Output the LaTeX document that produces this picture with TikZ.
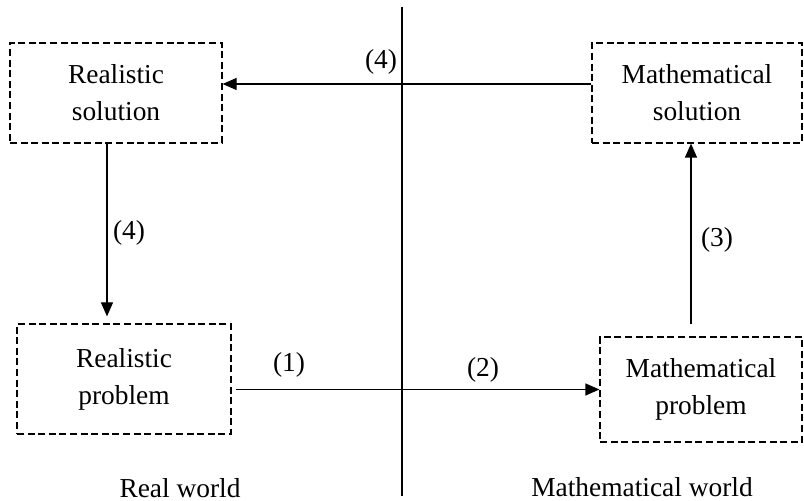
\documentclass[tikz,border=0pt]{standalone}
\usepackage{fontspec}
\setmainfont{Liberation Serif}
\usepackage{tikz}
\usetikzlibrary{arrows.meta, positioning, calc}

\begin{document}
\begin{tikzpicture}[
    x=0.5pt, y=-0.5pt,
    every node/.style={font=\fontsize{13.7}{18.5}\selectfont},
    stagebox/.style={rectangle, draw=black, line width=0.6pt, dash pattern=on 3.5pt off 1.8pt,
                  inner sep=0pt, align=center},
    arr/.style={-{Triangle[length=7pt, width=6pt]}, line width=0.6pt}
]
\useasboundingbox (0,0) rectangle (804,501);

% the four states
\node[stagebox, minimum width=106pt, minimum height=50pt] (rsol) at (116,93) {Realistic\\solution};
\node[stagebox, minimum width=105pt, minimum height=50pt] (msol) at (697,93) {Mathematical\\solution};
\node[stagebox, minimum width=107pt, minimum height=55pt] (rprob) at (124,379) {Realistic\\problem};
\node[stagebox, minimum width=101pt, minimum height=52.5pt] (mprob) at (701,389.5) {Mathematical\\problem};

% divider between the worlds
\coordinate (divtop) at (402,7);
\coordinate (divbot) at (402,496);
\draw[line width=0.6pt] (divtop) -- (divbot);

\draw[arr, shorten <=2pt] (rprob.east |- mprob.west) -- (mprob.west);
\draw[arr, shorten <=6pt] ([xshift=-3pt]msol.south |- mprob.north) -- ([xshift=-3pt]msol.south);
\draw[arr] ([yshift=4.5pt]msol.west) -- ([yshift=4.5pt]rsol.east);
\draw[arr, shorten >=3.5pt] ([xshift=-4.5pt]rsol.south) -- ([xshift=-4.5pt]rsol.south |- rprob.north);

\node (l1) at (289,365) {(1)};
\node (l2) at (483,370) {(2)};
\node (l3) at (717,240) {(3)};
\node (l4a) at (381,62) {(4)};
\node (l4b) at (129,233) {(4)};

\node (realw) at (180,488) {Real world};
\node (mathw) at (642,487) {Mathematical world};
\end{tikzpicture}
\end{document}
